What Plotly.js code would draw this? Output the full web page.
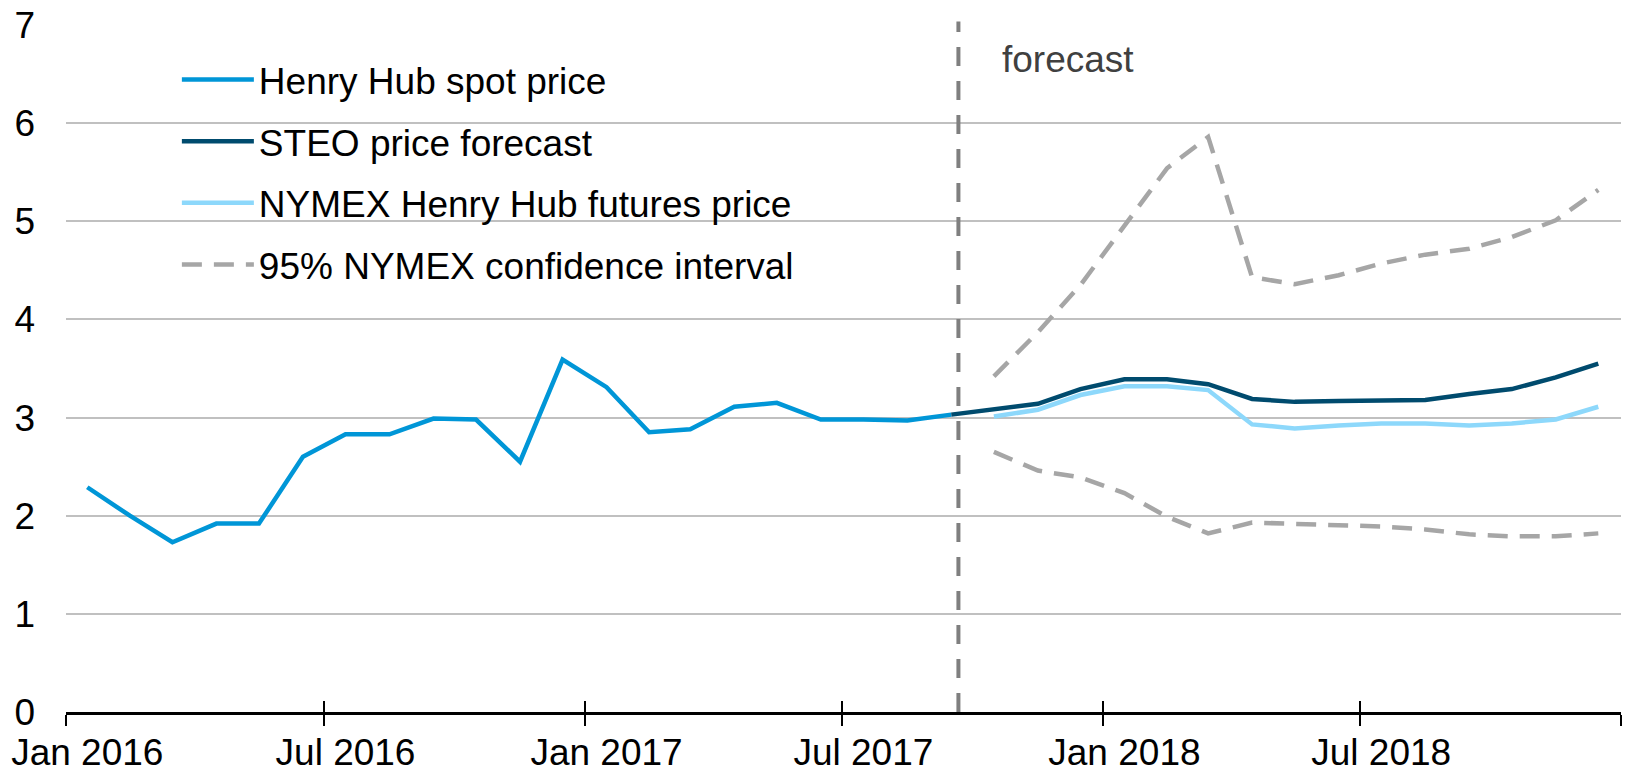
<!DOCTYPE html>
<html>
<head>
<meta charset="utf-8">
<script src="https://cdn.plot.ly/plotly-3.0.1.min.js"></script>
<style>
  html, body { margin: 0; padding: 0; background: #fff; }
  #chart { width: 1626px; height: 774px; }
</style>
</head>
<body>
<div id="chart"></div>
<script>
// monthly points sit in the middle of each month
var spotMonths = ["2016-01-16", "2016-02-15", "2016-03-16", "2016-04-16", "2016-05-16", "2016-06-16",
    "2016-07-16", "2016-08-16", "2016-09-16", "2016-10-16", "2016-11-16", "2016-12-16",
    "2017-01-16", "2017-02-15", "2017-03-16", "2017-04-16", "2017-05-16", "2017-06-16",
    "2017-07-16", "2017-08-16", "2017-09-16"];
var spotPrice = [2.29, 2.00, 1.73, 1.92, 1.92, 2.60, 2.83, 2.83, 2.99, 2.98, 2.55, 3.59,
    3.31, 2.85, 2.88, 3.11, 3.15, 2.98, 2.98, 2.97, 3.03];

var steoMonths = ["2017-09-16", "2017-10-16", "2017-11-16", "2017-12-16",
    "2018-01-16", "2018-02-15", "2018-03-16", "2018-04-16", "2018-05-16", "2018-06-16",
    "2018-07-16", "2018-08-16", "2018-09-16", "2018-10-16", "2018-11-16", "2018-12-16"];
var steoPrice = [3.03, 3.08, 3.14, 3.29, 3.39, 3.39, 3.34, 3.19, 3.16, 3.17, 3.18, 3.18,
    3.24, 3.29, 3.41, 3.55];

var futMonths = steoMonths.slice(1);
var futPrice = [3.01, 3.08, 3.23, 3.32, 3.32, 3.28, 2.93, 2.89, 2.92, 2.94, 2.94, 2.92,
    2.94, 2.98, 3.11];
var ciUpper = [3.42, 3.87, 4.35, 4.96, 5.54, 5.86, 4.43, 4.36, 4.45, 4.57, 4.66, 4.72,
    4.84, 5.01, 5.32];
var ciLower = [2.65, 2.46, 2.39, 2.23, 1.99, 1.82, 1.93, 1.92, 1.91, 1.89, 1.86, 1.81,
    1.79, 1.79, 1.82];

var tickBounds = ["2016-01-01", "2016-07-01", "2017-01-01", "2017-07-01", "2018-01-01", "2018-07-01", "2019-01-01"];
var labelPos = ["2016-01-16", "2016-07-16", "2017-01-16", "2017-07-16", "2018-01-16", "2018-07-16"];
var labelText = ["Jan 2016", "Jul 2016", "Jan 2017", "Jul 2017", "Jan 2018", "Jul 2018"];
var forecastStart = "2017-09-21";

var xRange = ["2016-01-01", "2019-01-01"];
var font = "Liberation Sans, Arial, sans-serif";
var lw = 4.5;

var traces = [
    { x: spotMonths, y: spotPrice, name: "Henry Hub spot price", legendgroup: "a",
      mode: "lines", line: { color: "#0096d7", width: lw } },
    { x: steoMonths, y: steoPrice, name: "STEO price forecast", legendgroup: "b",
      mode: "lines", line: { color: "#004b6e", width: lw } },
    { x: futMonths, y: futPrice, name: "NYMEX Henry Hub futures price", legendgroup: "c",
      mode: "lines", line: { color: "#8dd8fb", width: lw } },
    { x: futMonths, y: ciUpper, name: "95% NYMEX confidence interval", legendgroup: "d",
      mode: "lines", line: { color: "#a6a6a6", width: lw, dash: "20px,12px" } },
    { x: futMonths, y: ciLower, name: "lower", legendgroup: "d", showlegend: false,
      mode: "lines", line: { color: "#a6a6a6", width: lw, dash: "20px,12px" } },
    // empty traces so the overlay axes (inner ticks, month labels) get drawn
    { x: xRange, y: [null, null], xaxis: "x2", showlegend: false, hoverinfo: "skip", mode: "lines" },
    { x: xRange, y: [null, null], xaxis: "x3", showlegend: false, hoverinfo: "skip", mode: "lines" }
];

var layout = {
    width: 1626,
    height: 774,
    margin: { l: 66, r: 5, t: 25, b: 62 },
    paper_bgcolor: "#fff",
    plot_bgcolor: "#fff",
    font: { family: font, size: 37, color: "#000" },
    showlegend: true,
    legend: {
        x: 0.0713, y: 0.965, xanchor: "left", yanchor: "top",
        bgcolor: "rgba(0,0,0,0)", itemwidth: 72, tracegroupgap: 10.5,
        font: { family: font, size: 37, color: "#000" }
    },
    xaxis: {
        type: "date", range: xRange, tickmode: "array", tickvals: tickBounds,
        showticklabels: false, ticks: "outside", ticklen: 11, tickwidth: 2, tickcolor: "#000",
        showgrid: false, zeroline: false, showline: true, linecolor: "#000", linewidth: 3
    },
    xaxis2: {
        type: "date", range: xRange, overlaying: "x", tickmode: "array", tickvals: tickBounds,
        showticklabels: false, ticks: "inside", ticklen: 11, tickwidth: 2, tickcolor: "#000",
        showgrid: false, zeroline: false, showline: false
    },
    xaxis3: {
        type: "date", range: xRange, overlaying: "x", tickmode: "array",
        tickvals: labelPos, ticktext: labelText, ticks: "", ticklabelstandoff: 15,
        showgrid: false, zeroline: false, showline: false,
        tickfont: { family: font, size: 37, color: "#000" }
    },
    yaxis: {
        range: [0, 7], dtick: 1, tick0: 0, ticks: "", ticklabelstandoff: 30,
        showgrid: true, gridcolor: "#c0c0c0", gridwidth: 2, zeroline: false, showline: false,
        tickfont: { family: font, size: 37, color: "#000" }
    },
    shapes: [
        { type: "line", xref: "x", yref: "paper", x0: forecastStart, x1: forecastStart,
          y0: 0, y1: 1.005, line: { color: "#7f7f7f", width: 4, dash: "19px,15px" } }
    ],
    annotations: [
        { text: "forecast", xref: "x", yref: "paper", x: forecastStart, y: 0.9505,
          xanchor: "left", yanchor: "middle", xshift: 42, showarrow: false,
          font: { family: font, size: 37, color: "#404040" } }
    ]
};

Plotly.newPlot("chart", traces, layout, { displayModeBar: false, staticPlot: true });
</script>
</body>
</html>
